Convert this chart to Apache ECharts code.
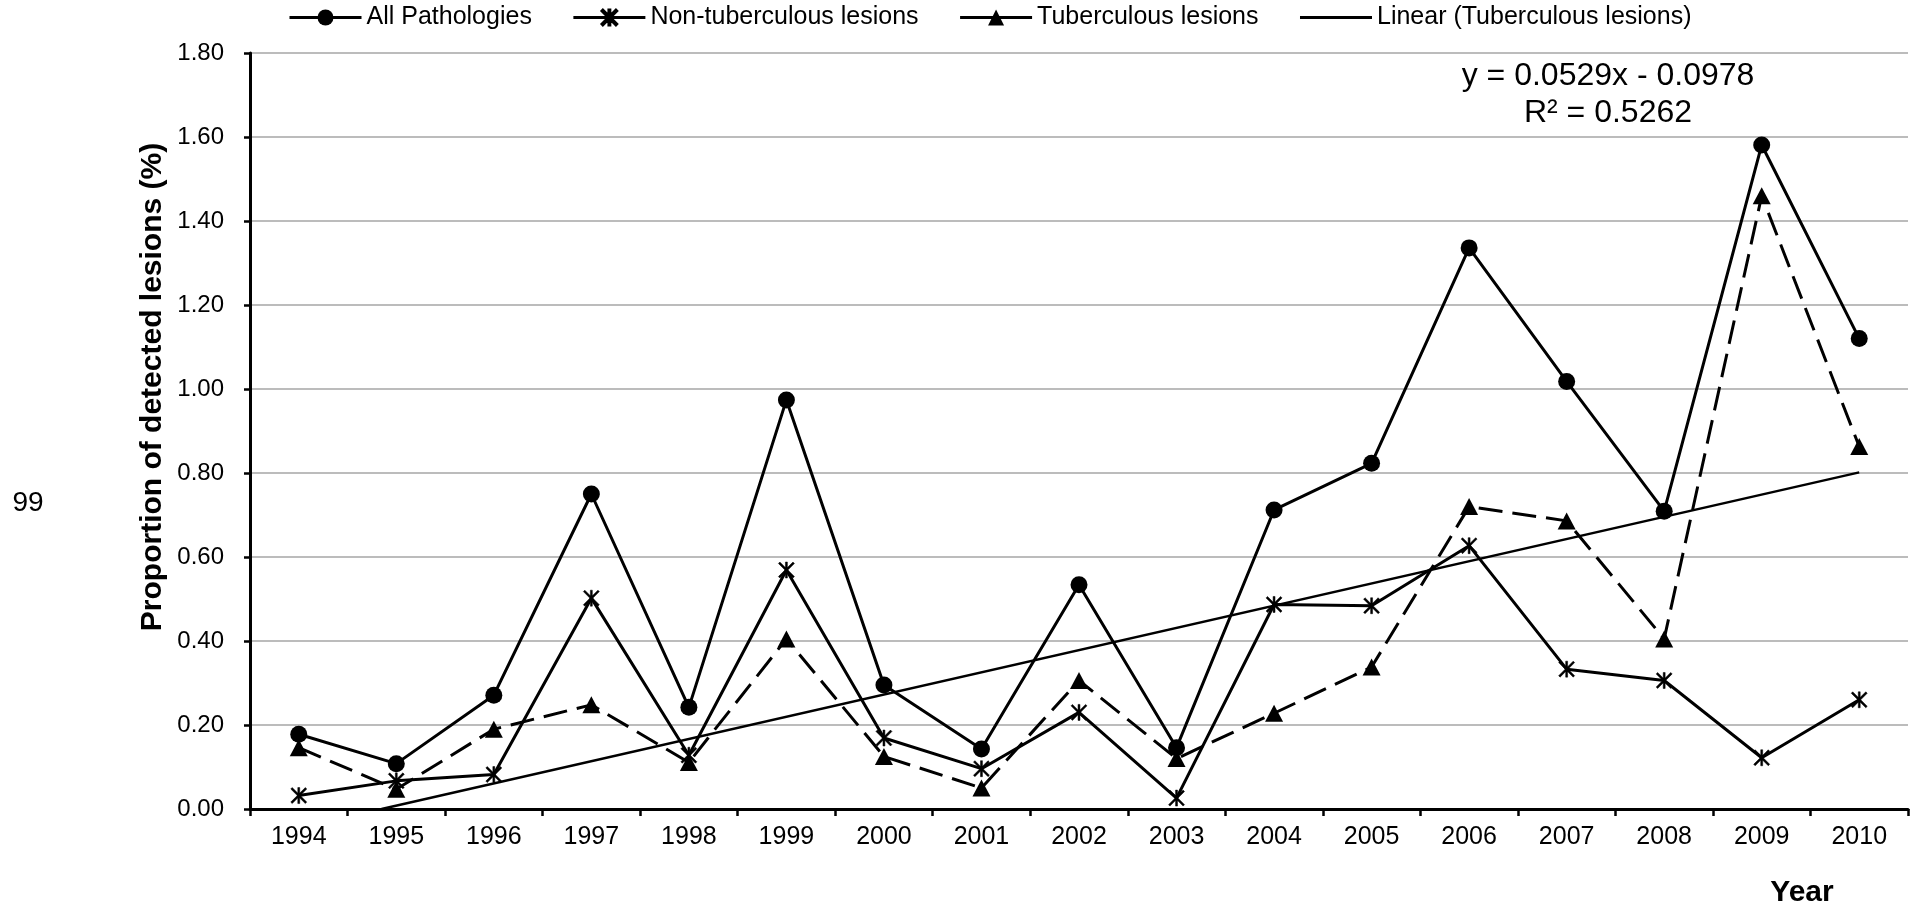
<!DOCTYPE html>
<html>
<head>
<meta charset="utf-8">
<script src="https://cdn.jsdelivr.net/npm/echarts@6/dist/echarts.min.js"></script>
<style>
html,body{margin:0;padding:0;background:#fff;}
#chart{width:1919px;height:907px;}
</style>
</head>
<body>
<div id="chart"></div>
<script>
const years = ['1994','1995','1996','1997','1998','1999','2000','2001','2002','2003','2004','2005','2006','2007','2008','2009','2010'];
const allPathologies = [0.178,0.108,0.271,0.750,0.242,0.974,0.295,0.143,0.534,0.146,0.712,0.823,1.336,1.018,0.709,1.581,1.120];
const nonTuberculous = [0.032,0.067,0.082,0.502,0.128,0.569,0.169,0.096,0.230,0.026,0.487,0.484,0.627,0.333,0.306,0.122,0.260];
const tuberculous = [0.146,0.047,0.190,0.248,0.111,0.405,0.125,0.050,0.306,0.120,0.228,0.338,0.720,0.686,0.405,1.460,0.863];
const trendSlope = 0.0529;
const trendIntercept = -0.0978;
const trendR2 = 0.5262;
const yMin = 0, yMax = 1.8, yStep = 0.2;

const FONT = '"Liberation Sans", Arial, sans-serif';
const asterisk = 'path://M8.8,0 L11.2,0 L11.2,20 L8.8,20 Z M0,1.8 L1.8,0 L20,18.2 L18.2,20 Z M18.2,0 L20,1.8 L1.8,20 L0,18.2 Z';

// Trendline endpoints from the equation shown on the chart (Excel x = 1 for 1994), clipped at y = 0
const baseYear = Number(years[0]) - 1;
const lastX = years.length;
const startX = -trendIntercept / trendSlope;
const trendData = [
  [baseYear + startX, 0],
  [baseYear + lastX, trendSlope * lastX + trendIntercept]
];

const chart = echarts.init(document.getElementById('chart'), null, {renderer: 'canvas'});
chart.setOption({
  animation: false,
  backgroundColor: '#fff',
  textStyle: {fontFamily: FONT, color: '#000'},
  grid: {left: 250, right: 11, top: 53, bottom: 98, containLabel: false},
  legend: {
    left: 288, top: 5, padding: 0,
    itemWidth: 72, itemHeight: 20, itemGap: 40,
    textStyle: {fontSize: 25, color: '#000', fontFamily: FONT},
    lineStyle: {type: 'solid', width: 3},
    data: ['All Pathologies', 'Non-tuberculous lesions', 'Tuberculous lesions',
      {name: 'Linear (Tuberculous lesions)', itemStyle: {opacity: 0}}]
  },
  xAxis: [{
    type: 'category', data: years, boundaryGap: true,
    axisLine: {lineStyle: {color: '#000', width: 3}},
    axisTick: {show: true, length: 7, lineStyle: {color: '#000', width: 2.5}},
    axisLabel: {fontSize: 25, color: '#000', margin: 16, fontFamily: FONT}
  }, {
    type: 'value', min: Number(years[0]) - 0.5, max: Number(years[years.length - 1]) + 0.5,
    show: false, position: 'bottom'
  }],
  yAxis: {
    type: 'value', min: yMin, max: yMax, interval: yStep,
    axisLine: {show: true, lineStyle: {color: '#000', width: 3}},
    axisTick: {show: true, length: 6, lineStyle: {color: '#000', width: 2.5}},
    axisLabel: {fontSize: 24, color: '#000', margin: 26, fontFamily: FONT, formatter: v => v.toFixed(2)},
    splitLine: {show: true, lineStyle: {color: '#a6a6a6', width: 1.5}}
  },
  series: [
    {
      name: 'Linear (Tuberculous lesions)', type: 'line', xAxisIndex: 1,
      data: trendData, symbol: 'none', silent: true,
      lineStyle: {color: '#000', width: 2.5}, itemStyle: {color: '#000'}, z: 1
    },
    {
      name: 'All Pathologies', type: 'line', data: allPathologies,
      symbol: 'circle', symbolSize: 17,
      lineStyle: {color: '#000', width: 3}, itemStyle: {color: '#000', borderColor: '#000', borderWidth: 0}, z: 3
    },
    {
      name: 'Non-tuberculous lesions', type: 'line', data: nonTuberculous,
      symbol: asterisk, symbolSize: 16,
      lineStyle: {color: '#000', width: 3}, itemStyle: {color: '#000', borderColor: '#000', borderWidth: 0.5}, z: 3
    },
    {
      name: 'Tuberculous lesions', type: 'line', data: tuberculous,
      symbol: 'triangle', symbolSize: [18, 17],
      lineStyle: {color: '#000', width: 3, type: [24, 10]}, itemStyle: {color: '#000', borderColor: '#000', borderWidth: 0}, z: 3
    }
  ],
  graphic: [
    {type: 'text', x: 153, y: 387, rotation: Math.PI / 2,
      style: {text: 'Proportion of detected lesions (%)', font: 'bold 30px ' + FONT, fill: '#000', align: 'center', verticalAlign: 'middle'}},
    {type: 'text', x: 1802, y: 893,
      style: {text: 'Year', font: 'bold 30px ' + FONT, fill: '#000', align: 'center', verticalAlign: 'middle'}},
    {type: 'text', x: 28, y: 503,
      style: {text: '99', font: '28px ' + FONT, fill: '#000', align: 'center', verticalAlign: 'middle'}},
    {type: 'text', x: 1608, y: 76,
      style: {text: 'y = ' + trendSlope.toFixed(4) + 'x - ' + Math.abs(trendIntercept).toFixed(4), font: '32px ' + FONT, fill: '#000', align: 'center', verticalAlign: 'middle'}},
    {type: 'text', x: 1608, y: 113,
      style: {text: 'R\u00b2 = ' + trendR2.toFixed(4), font: '32px ' + FONT, fill: '#000', align: 'center', verticalAlign: 'middle'}}
  ]
});
</script>
</body>
</html>
